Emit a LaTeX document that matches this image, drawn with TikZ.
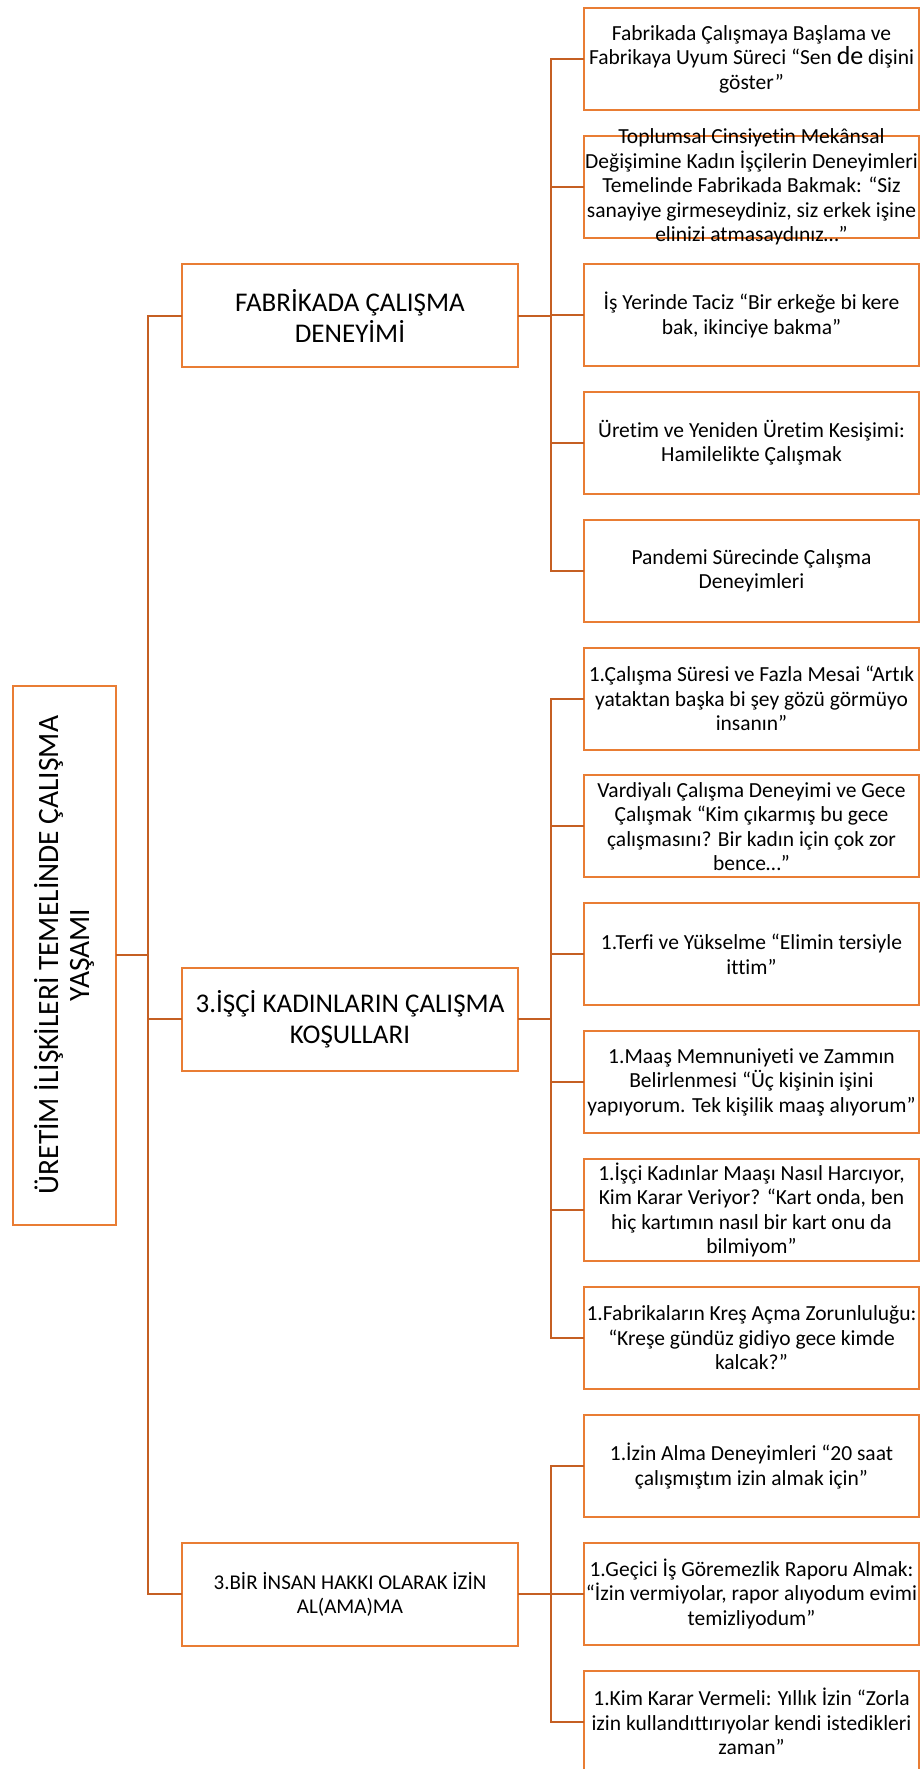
\documentclass[tikz,border=0pt]{standalone}
\usepackage{fontspec}
\setmainfont{Carlito}[Ligatures=NoCommon]

\definecolor{boxline}{RGB}{233,125,52}
\definecolor{linkline}{RGB}{197,95,35}

\tikzset{
    box/.style={draw=boxline, line width=2pt, inner sep=0pt, minimum width=336pt, minimum height=103pt, align=center},
    kid/.style={box, minimum width=335pt, minimum height=102pt},
    kidtext/.style={align=center, font=\fontsize{21.5}{24.5}\selectfont},
    link/.style={draw=linkline, line width=2pt, line cap=rect},
}

\begin{document}
\begin{tikzpicture}[x=1pt,y=-1pt]
    \useasboundingbox (0,0) rectangle (920,1769);
    \coordinate (T) at (148,0);
    \coordinate (G) at (551,0);
    \node[box, minimum width=103pt, minimum height=539pt] (R) at (64,955) {};
    \node[rotate=90, align=center, font=\fontsize{29.5}{31}\selectfont] (Rt) at (R) {ÜRETİM İLİŞKİLERİ TEMELİNDE ÇALIŞMA\\YAŞAMI};
    \node[box, font=\fontsize{27}{31}\selectfont] (L1) at (350,315.5) {FABRİKADA ÇALIŞMA\\DENEYİMİ};
    \node[box, font=\fontsize{27}{31}\selectfont] (L2) at (350,1019) {3.İŞÇİ KADINLARIN ÇALIŞMA\\KOŞULLARI};
    \node[box, font=\fontsize{21}{24}\selectfont] (L3) at (350,1594) {3.BİR İNSAN HAKKI OLARAK İZİN\\AL(AMA)MA};
    \foreach \i/\A in {
        0/{Fabrikada Çalışmaya Başlama ve\\Fabrikaya Uyum Süreci “Sen {\fontsize{26}{24}\selectfont de} dişini\\göster”},
        1/{Toplumsal Cinsiyetin Mekânsal\\Değişimine Kadın İşçilerin Deneyimleri\\Temelinde Fabrikada Bakmak: “Siz\\sanayiye girmeseydiniz, siz erkek işine\\elinizi atmasaydınız…”},
        2/{İş Yerinde Taciz “Bir erkeğe bi kere\\bak, ikinciye bakma”},
        3/{Üretim ve Yeniden Üretim Kesişimi:\\Hamilelikte Çalışmak},
        4/{Pandemi Sürecinde Çalışma\\Deneyimleri},
        5/{1.Çalışma Süresi ve Fazla Mesai “Artık\\yataktan başka bi şey gözü görmüyo\\insanın”},
        6/{Vardiyalı Çalışma Deneyimi ve Gece\\Çalışmak “Kim çıkarmış bu gece\\çalışmasını? Bir kadın için çok zor\\bence…”},
        7/{1.Terfi ve Yükselme “Elimin tersiyle\\ittim”},
        8/{1.Maaş Memnuniyeti ve Zammın\\Belirlenmesi “Üç kişinin işini\\yapıyorum. Tek kişilik maaş alıyorum”},
        9/{1.İşçi Kadınlar Maaşı Nasıl Harcıyor,\\Kim Karar Veriyor? “Kart onda, ben\\hiç kartımın nasıl bir kart onu da\\bilmiyom”},
        10/{1.Fabrikaların Kreş Açma Zorunluluğu:\\“Kreşe gündüz gidiyo gece kimde\\kalcak?”},
        11/{1.İzin Alma Deneyimleri “20 saat\\çalışmıştım izin almak için”},
        12/{1.Geçici İş Göremezlik Raporu Almak:\\“İzin vermiyolar, rapor alıyodum evimi\\temizliyodum”},
        13/{1.Kim Karar Vermeli: Yıllık İzin “Zorla\\izin kullandıttırıyolar kendi istedikleri\\zaman”}} {
        \node[kid] (K\i) at (751.5,{59+127.9*\i}) {};
        \node[kidtext] (Kt\i) at (K\i) {\A};
    }
    \draw[link] (R.east) -- (R.east -| T);
    \draw[link] (L1.west -| T) -- (L3.west -| T);
    \foreach \n/\a/\b in {L1/0/4,L2/5/10,L3/11/13} {
        \draw[link] (\n.west) -- (\n.west -| T);
        \draw[link] (\n.east) -- (\n.east -| G);
        \draw[link] (K\a.west -| G) -- (K\b.west -| G);
    }
    \foreach \i in {0,...,13}
        \draw[link] (K\i.west) -- (K\i.west -| G);
\end{tikzpicture}
\end{document}
